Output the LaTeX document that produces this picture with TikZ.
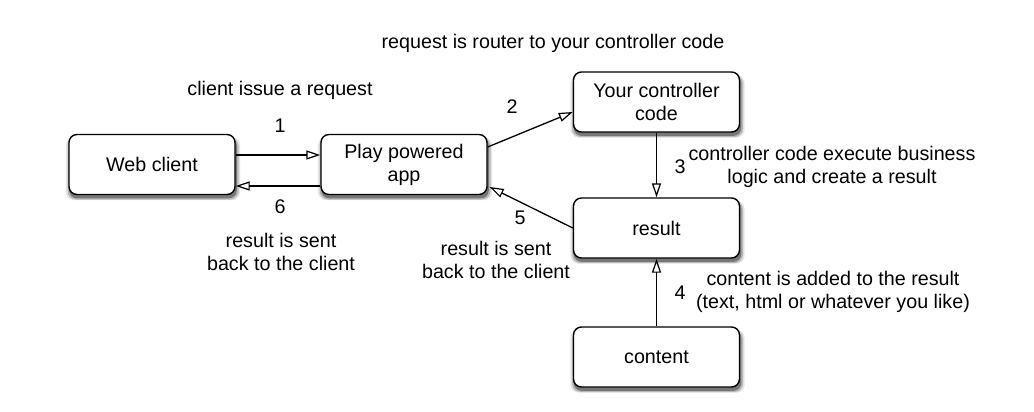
\documentclass[tikz,border=0pt]{standalone}
\usepackage{fontspec}
\setmainfont{Liberation Sans}
\usetikzlibrary{arrows.meta,shadows}
\begin{document}
\begin{tikzpicture}[x=1pt,y=-1pt,
  every node/.style={font=\fontsize{19.7}{23}\selectfont, inner sep=0pt},
  boxsh/.style={
    general shadow={fill=black,opacity=0.1,shadow xshift=1pt,shadow yshift=-4pt,shadow scale=1.05},
    general shadow={fill=black,opacity=0.2,shadow xshift=1pt,shadow yshift=-4pt,shadow scale=1.03},
    general shadow={fill=black,opacity=0.35,shadow xshift=1pt,shadow yshift=-3.5pt,shadow scale=1.01}},
  box/.style={boxsh, draw=black, fill=white, line width=1.4pt, rounded corners=8pt,
    minimum width=166pt, minimum height=60pt, align=center},
  arr/.style={line width=1.3pt, -{Triangle[open,length=14pt,width=9pt,line width=1.2pt]}},
  lbl/.style={align=center}]
\useasboundingbox (0,0) rectangle (1034,412);
\node[box] (web) at (152,164.5) {Web client};
\node[box] (play) at (404,164.5) {Play powered\\app};
\node[box] (ctrl) at (656.5,102) {Your controller\\code};
\node[box] (res) at (656.5,228) {result};
\node[box] (cont) at (656.5,357) {content};

\draw[arr] ([yshift=9.5pt]web.east) -- ([yshift=9.5pt]play.west);
\draw[arr] ([yshift=-21.5pt]play.west) -- ([yshift=-21.5pt]web.east);
\draw[arr] ([yshift=17.5pt]play.east) -- ([yshift=-10pt]ctrl.west);
\draw[arr] (ctrl.south) -- (res.north);
\draw[arr] (cont.north) -- (res.south);
\draw[arr] (res.west) -- ([xshift=2pt,yshift=-22.5pt]play.east);

\node[lbl] (t0) at (553,43) {request is router to your controller code};
\node[lbl] (t1) at (280,90) {client issue a request};
\node (n1) at (280,126) {1};
\node (n6) at (280,207) {6};
\node[lbl] (t6) at (281,252) {result is sent\\back to the client};
\node (n2) at (512,107) {2};
\node (n5) at (520,218) {5};
\node[lbl] (t5) at (496,260) {result is sent\\back to the client};
\node (n3) at (680,167) {3};
\node[lbl] (t3) at (832,167) {controller code execute business\\logic and create a result};
\node (n4) at (680,293) {4};
\node[lbl] (t4) at (833,292) {content is added to the result\\(text, html or whatever you like)};
\end{tikzpicture}
\end{document}
